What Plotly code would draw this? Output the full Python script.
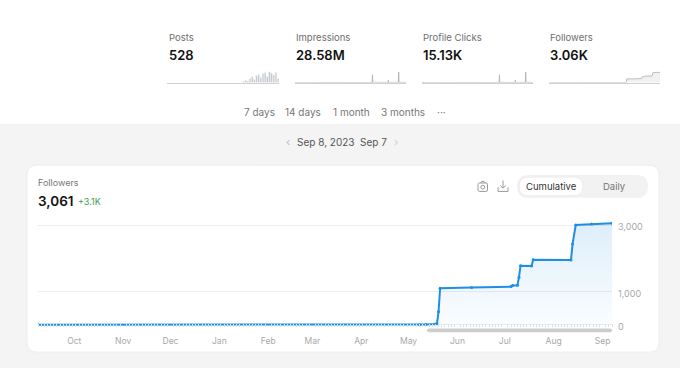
import plotly.graph_objects as go

W, H = 680, 368
def X(px): return px / W
def Y(py): return (H - py) / H

# ---------------- data ----------------
followers_dates = ["2022-09-08", "2023-05-08", "2023-05-12", "2023-05-18", "2023-05-19",
                   "2023-05-20", "2023-05-21", "2023-06-10", "2023-07-05", "2023-07-06",
                   "2023-07-09", "2023-07-10", "2023-07-11", "2023-07-18", "2023-07-19",
                   "2023-08-12", "2023-08-13", "2023-08-15", "2023-08-25", "2023-09-07"]
followers_values = [0, 0, 10, 25, 30, 390, 1100, 1120, 1150, 1185,
                    1190, 1430, 1780, 1770, 1960, 1950, 2440, 3010, 3040, 3061]

posts_weeks = ["2023-05-15", "2023-05-22", "2023-05-29", "2023-06-05", "2023-06-12", "2023-06-19",
               "2023-06-26", "2023-07-03", "2023-07-10", "2023-07-17", "2023-07-24", "2023-07-31",
               "2023-08-07", "2023-08-14", "2023-08-21", "2023-08-28", "2023-09-04"]
posts_counts = [5, 12, 8, 20, 30, 15, 35, 40, 25, 45, 50, 30, 55, 48, 38, 52, 20]

impr_dates = ["2022-09-08", "2023-05-19", "2023-05-20", "2023-05-21", "2023-07-10", "2023-07-11",
              "2023-07-12", "2023-08-13", "2023-08-14", "2023-08-15", "2023-09-07"]
impr_values = [0.0, 0.1, 8.3, 0.3, 0.1, 2.4, 0.2, 0.2, 11.2, 0.3, 0.1]

clicks_dates = impr_dates
clicks_values = [0.0, 0.05, 4.4, 0.15, 0.05, 1.3, 0.1, 0.1, 6.0, 0.15, 0.05]

stat_labels = ["Posts", "Impressions", "Profile Clicks", "Followers"]
stat_values = ["528", "28.58M", "15.13K", "3.06K"]
periods = ["7 days", "14 days", "1 month", "3 months", "···"]
y_ticks = [0, 1000, 3000]
y_tick_labels = ["0", "1,000", "3,000"]

x_start, x_end = "2022-09-08", "2023-09-07"
FONT = "Inter"

fig = go.Figure()

# main chart
fig.add_trace(go.Scatter(
    x=followers_dates, y=followers_values, mode="lines+markers",
    line=dict(color="#1f8fe5", width=2), marker=dict(size=3, color="#1f8fe5"),
    fill="tozeroy",
    fillgradient=dict(type="vertical",
                      colorscale=[[0, "rgba(31,143,229,0.02)"], [1, "rgba(31,143,229,0.15)"]]),
    xaxis="x", yaxis="y", hoverinfo="skip", showlegend=False))

# sparklines
fig.add_trace(go.Bar(x=posts_weeks, y=posts_counts, marker_color="#bdbdbd",
                     width=4.5 * 86400000, xaxis="x2", yaxis="y2", showlegend=False))
fig.add_trace(go.Scatter(x=impr_dates, y=impr_values, mode="lines",
                         line=dict(color="#b5b5b5", width=1), xaxis="x3", yaxis="y3", showlegend=False))
fig.add_trace(go.Scatter(x=clicks_dates, y=clicks_values, mode="lines",
                         line=dict(color="#b5b5b5", width=1), xaxis="x4", yaxis="y4", showlegend=False))
fig.add_trace(go.Scatter(x=followers_dates, y=followers_values, mode="lines",
                         line=dict(color="#bdbdbd", width=1), fill="tozeroy",
                         fillcolor="rgba(200,200,200,0.25)", xaxis="x5", yaxis="y5", showlegend=False))

def spark_axes(x0, x1, ytop, ybot, ymax):
    xa = dict(domain=[X(x0), X(x1)], range=[x_start, x_end], type="date", showgrid=False,
              showticklabels=False, zeroline=False, showline=True, linecolor="#d0d0d0",
              linewidth=1, ticks="", fixedrange=True)
    ya = dict(domain=[Y(ybot), Y(ytop)], range=[0, ymax], showgrid=False, showticklabels=False,
              zeroline=False, showline=False, ticks="", fixedrange=True)
    return xa, ya

xa2, ya2 = spark_axes(167, 279, 72, 83.5, 58)
xa3, ya3 = spark_axes(295, 406, 72, 83.5, 12.0)
xa4, ya4 = spark_axes(422, 533, 72, 83.5, 6.4)
xa5, ya5 = spark_axes(549, 660, 72, 83.5, 3400)
xa2["anchor"], ya2["anchor"] = "y2", "x2"
xa3["anchor"], ya3["anchor"] = "y3", "x3"
xa4["anchor"], ya4["anchor"] = "y4", "x4"
xa5["anchor"], ya5["anchor"] = "y5", "x5"

def rrect(x0, y0, x1, y1, r):
    return (f"M{X(x0+r)},{Y(y0)} L{X(x1-r)},{Y(y0)} Q{X(x1)},{Y(y0)} {X(x1)},{Y(y0+r)} "
            f"L{X(x1)},{Y(y1-r)} Q{X(x1)},{Y(y1)} {X(x1-r)},{Y(y1)} "
            f"L{X(x0+r)},{Y(y1)} Q{X(x0)},{Y(y1)} {X(x0)},{Y(y1-r)} "
            f"L{X(x0)},{Y(y0+r)} Q{X(x0)},{Y(y0)} {X(x0+r)},{Y(y0)} Z")

shapes = [
    dict(type="rect", xref="paper", yref="paper", x0=0, x1=1, y0=Y(125), y1=1.05,
         fillcolor="white", line_width=0, layer="below"),
    dict(type="path", xref="paper", yref="paper", path=rrect(27, 167, 659, 356, 10),
         fillcolor="white", line=dict(color="#ededed", width=1), layer="below"),
    dict(type="path", xref="paper", yref="paper", path=rrect(517, 177, 648, 200, 11.5),
         fillcolor="#f2f2f2", line_width=0, layer="below"),
    dict(type="path", xref="paper", yref="paper", path=rrect(519, 179, 583, 198, 9.5),
         fillcolor="white", line=dict(color="#ebebeb", width=1), layer="below"),
    # range bar under the chart
    dict(type="path", xref="paper", yref="paper", path=rrect(427, 332, 612, 336, 2),
         fillcolor="#cdcdcd", line_width=0, layer="above"),
    # camera icon
    dict(type="path", xref="paper", yref="paper", path=rrect(478, 185, 487.5, 193.5, 1.5),
         fillcolor="rgba(0,0,0,0)", line=dict(color="#9a9a9a", width=1)),
    dict(type="path", xref="paper", yref="paper",
         path=f"M{X(480.5)},{Y(185)} L{X(481.5)},{Y(183.5)} L{X(484)},{Y(183.5)} L{X(485)},{Y(185)}",
         line=dict(color="#9a9a9a", width=1)),
    dict(type="circle", xref="paper", yref="paper", x0=X(480.8), x1=X(484.7), y0=Y(191.2), y1=Y(187.3),
         line=dict(color="#9a9a9a", width=1)),
    # download icon
    dict(type="path", xref="paper", yref="paper",
         path=f"M{X(503)},{Y(182.5)} L{X(503)},{Y(190)} M{X(500.3)},{Y(187.5)} L{X(503)},{Y(190.2)} L{X(505.7)},{Y(187.5)}",
         line=dict(color="#9a9a9a", width=1)),
    dict(type="path", xref="paper", yref="paper",
         path=f"M{X(498)},{Y(189.5)} L{X(498)},{Y(193.5)} L{X(508)},{Y(193.5)} L{X(508)},{Y(189.5)}",
         line=dict(color="#9a9a9a", width=1)),
]

ann = []
def text(x, y, s, size, color, anchor="left", weight=None):
    f = dict(family=FONT, size=size, color=color)
    if weight:
        f["weight"] = weight
    ann.append(dict(xref="paper", yref="paper", x=X(x), y=Y(y), text=s, showarrow=False,
                    xanchor=anchor, yanchor="middle", font=f, borderpad=0))

for lx, lab, val in zip([168, 295, 422, 549], stat_labels, stat_values):
    text(lx, 38, lab, 9.5, "#6e6e6e")
    text(lx, 56, val, 13, "#111111", weight=600)

for cx, p in zip([259.5, 303, 351, 402.5, 441], periods):
    text(cx, 113, p, 10, "#777777", anchor="center")

text(288, 144, "‹", 11, "#bbbbbb", anchor="center")
text(326, 144, "Sep 8, 2023", 10, "#555555", anchor="center")
text(373, 144, "Sep 7", 10, "#555555", anchor="center")
text(396, 144, "›", 11, "#cccccc", anchor="center")

text(37, 184, "Followers", 9, "#777777")
text(37, 203, "3,061", 13.5, "#111111", weight=600)
text(77, 204, "+3.1K", 9, "#3c9d50")
text(551, 188.5, "Cumulative", 9.5, "#333333", anchor="center")
text(614, 188.5, "Daily", 9.5, "#777777", anchor="center")

fig.update_layout(
    width=W, height=H, margin=dict(l=0, r=0, t=0, b=0),
    paper_bgcolor="#f4f4f4", plot_bgcolor="rgba(0,0,0,0)",
    font=dict(family=FONT),
    showlegend=False,
    xaxis=dict(domain=[X(38), X(612)], range=[x_start, x_end], type="date",
               anchor="y", dtick="M1", tickformat="%b", ticks="", showgrid=False,
               zeroline=False, showline=False,
               tickfont=dict(family=FONT, size=8.5, color="#a8a8a8"),
               ticklabelstandoff=7,
               minor=dict(ticks="inside", ticklen=3, tickcolor="#d5e4f0", dtick=2 * 86400000,
                          showgrid=False),
               fixedrange=True),
    yaxis=dict(domain=[Y(331), Y(222)], range=[-81, 3173], side="right", anchor="x",
               tickvals=y_ticks, ticktext=y_tick_labels, showgrid=True, gridcolor="#ededed",
               gridwidth=1, zeroline=False, showline=False, ticks="",
               tickfont=dict(family=FONT, size=9, color="#a8a8a8"),
               ticklabelstandoff=5, ticklabelshift=2, fixedrange=True),
    xaxis2=xa2, yaxis2=ya2, xaxis3=xa3, yaxis3=ya3,
    xaxis4=xa4, yaxis4=ya4, xaxis5=xa5, yaxis5=ya5,
    shapes=shapes, annotations=ann,
)

fig.write_html("out.html", config={"displayModeBar": False},
               post_script=("document.documentElement.style.margin='0px';"
                            "document.body.style.margin='0px';"
                            "document.body.style.overflow='hidden';"
                            "document.documentElement.style.overflow='hidden';"
                            "window.scrollTo(0,0);"))
